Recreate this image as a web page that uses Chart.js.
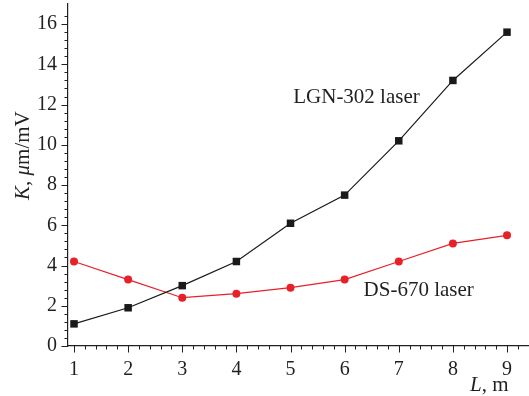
<!DOCTYPE html>
<html><head><meta charset="utf-8">
<script src="https://cdn.jsdelivr.net/npm/chart.js@4"></script>
<style>html,body{margin:0;padding:0;background:#fff}#wrap{width:529px;height:396px;position:relative}</style>
</head><body><div id="wrap"><canvas id="c"></canvas></div>
<script>
const lengthsL = [1, 2, 3, 4, 5, 6, 7, 8, 9];
const lgn302 = [1.1, 1.9, 3.0, 4.2, 6.1, 7.5, 10.2, 13.2, 15.6];
const ds670 = [4.2, 3.3, 2.4, 2.6, 2.9, 3.3, 4.2, 5.1, 5.5];
const xTickLabels = [1, 2, 3, 4, 5, 6, 7, 8, 9];
const yTickLabels = [0, 2, 4, 6, 8, 10, 12, 14, 16];
const seriesNames = ['LGN-302 laser', 'DS-670 laser'];
const labelAnchors = [[5.05, 12.1], [6.35, 2.5]]; // data coords of annotation text (left, baseline)

const INK = '#231f20';
const RED = '#e8202a';
const SERIF = '"Liberation Serif", "Times New Roman", serif';

const toPts = ys => lengthsL.map((x, i) => ({ x, y: ys[i] }));

const decor = {
  id: 'decor',
  afterDraw(chart) {
    const ctx = chart.ctx, xs = chart.scales.x, ys = chart.scales.y;
    const ca = chart.chartArea;
    ctx.save();
    ctx.strokeStyle = INK; ctx.lineWidth = 1;
    // x ticks
    for (let k = 0; k * 0.2 + 1 <= xs.max + 1e-6; k++) {
      const v = 1 + k * 0.2;
      const px = Math.round(xs.getPixelForValue(v)) + 0.5;
      const len = (k % 5 === 0) ? 6.5 : 3.5;
      ctx.beginPath(); ctx.moveTo(px, ca.bottom); ctx.lineTo(px, ca.bottom + len); ctx.stroke();
    }
    // y ticks
    for (let k = 0; k * 0.4 <= 16.5; k++) {
      const v = k * 0.4;
      const py = Math.round(ys.getPixelForValue(v)) + 0.5;
      const len = (k % 5 === 0) ? 6.5 : 3.5;
      ctx.beginPath(); ctx.moveTo(ca.left, py); ctx.lineTo(ca.left - len, py); ctx.stroke();
    }
    ctx.fillStyle = INK;
    ctx.textBaseline = 'alphabetic';
    // x title
    ctx.textAlign = 'left';
    let x0 = 470, yb = 391;
    ctx.font = 'italic 21px ' + SERIF; ctx.fillText('L', x0, yb); x0 += ctx.measureText('L').width;
    ctx.font = '21px ' + SERIF; ctx.fillText(', m', x0, yb);
    // y title rotated
    ctx.save();
    ctx.translate(29, 200); ctx.rotate(-Math.PI / 2);
    const parts = [['K', true], [', ', false], ['\u03bc', true], ['m/mV', false]];
    let t = 0;
    for (const [s, it] of parts) {
      ctx.font = (it ? 'italic ' : '') + '21px ' + SERIF;
      ctx.fillText(s, t, 0); t += ctx.measureText(s).width;
    }
    ctx.restore();
    // annotations
    ctx.font = '21px ' + SERIF;
    seriesNames.forEach((n, i) => {
      ctx.fillText(n, xs.getPixelForValue(labelAnchors[i][0]), ys.getPixelForValue(labelAnchors[i][1]));
    });
    ctx.restore();
  }
};

new Chart(document.getElementById('c'), {
  type: 'line',
  data: {
    datasets: [
      { label: seriesNames[0], data: toPts(lgn302), borderColor: '#1a1a1a', backgroundColor: '#1a1a1a',
        borderWidth: 1.2, pointStyle: 'rect', pointRadius: 5.3, pointBorderWidth: 0, tension: 0, clip: false },
      { label: seriesNames[1], data: toPts(ds670), borderColor: RED, backgroundColor: RED,
        borderWidth: 1.2, pointStyle: 'circle', pointRadius: 4, pointBorderWidth: 0, tension: 0, clip: false }
    ]
  },
  options: {
    responsive: true, maintainAspectRatio: false, animation: false,
    layout: { autoPadding: false, padding: { top: 4, right: 0, left: 0, bottom: 0 } },
    plugins: { legend: { display: false }, tooltip: { enabled: false } },
    scales: {
      x: {
        type: 'linear', min: 0.889, max: 9.406,
        afterBuildTicks: s => { s.ticks = xTickLabels.map(v => ({ value: v })); },
        afterFit: s => { s.height = 50; s.paddingLeft = 0; s.paddingRight = 0; },
        grid: { drawOnChartArea: false, drawTicks: false },
        border: { display: true, color: INK, width: 1.2 },
        ticks: { color: INK, font: { family: SERIF, size: 20 }, padding: 12, maxRotation: 0, autoSkip: false,
                 callback: v => String(v) }
      },
      y: {
        type: 'linear', min: 0, max: 17,
        afterBuildTicks: s => { s.ticks = yTickLabels.map(v => ({ value: v })); },
        afterFit: s => { s.width = 68; s.paddingTop = 0; s.paddingBottom = 0; },
        grid: { drawOnChartArea: false, drawTicks: false },
        border: { display: true, color: INK, width: 1.2 },
        ticks: { color: INK, font: { family: SERIF, size: 20 }, padding: 11, autoSkip: false,
                 callback: v => String(v) }
      }
    }
  },
  plugins: [decor]
});
</script></body></html>
